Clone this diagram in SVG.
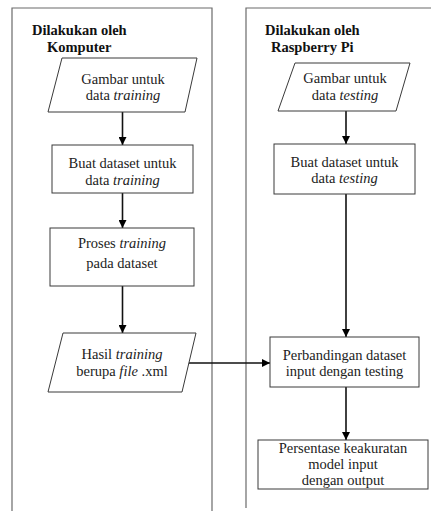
<svg xmlns="http://www.w3.org/2000/svg" width="431" height="511" viewBox="0 0 431 511">
<defs>
<marker id="ah" viewBox="0 0 10 10" refX="10" refY="5" markerWidth="8" markerHeight="8" markerUnits="userSpaceOnUse" orient="auto">
<path d="M0,0 L10,5 L0,10 z" fill="#000"/>
</marker>
<style>
.panel{fill:none;stroke:#6b6b6b;stroke-width:1.2}
.node{fill:#fff;stroke:#3a3a3a;stroke-width:1}
.t{font-family:'Liberation Serif','DejaVu Serif',serif;font-size:14.5px;fill:#222;text-anchor:middle}
.h{font-family:'Liberation Serif','DejaVu Serif',serif;font-size:14.5px;font-weight:bold;fill:#111}
.c{fill:none;stroke:#111;stroke-width:1.6;marker-end:url(#ah)}
</style>
</defs>
<rect width="431" height="511" fill="#fff"/>
<g id="panel-komputer">
<path class="panel" d="M12,511 V8 H212 V511"/>
<text class="h" x="32" y="35" font-family="Liberation Serif, serif">Dilakukan oleh</text>
<text class="h" x="47" y="52" font-family="Liberation Serif, serif">Komputer</text>
</g>
<g id="panel-raspberry">
<path class="panel" d="M246,508 V8 H431"/>
<text class="h" x="265" y="35">Dilakukan oleh</text>
<text class="h" x="271" y="52">Raspberry Pi</text>
</g>
<g id="connectors">
<line class="c" x1="122.5" y1="112" x2="122.5" y2="145"/>
<line class="c" x1="122.5" y1="193" x2="122.5" y2="228"/>
<line class="c" x1="122.5" y1="286" x2="122.5" y2="333"/>
<line class="c" x1="188" y1="363" x2="270" y2="363"/>
<line class="c" x1="346" y1="111" x2="346" y2="144"/>
<line class="c" x1="346" y1="194" x2="346" y2="337"/>
<line class="c" x1="346" y1="387" x2="346" y2="440"/>
</g>
<g id="n1">
<polygon class="node" points="62,58 197,58 185,112 48,112"/>
<text class="t" x="123" y="84">Gambar untuk</text>
<text class="t" x="123" y="100">data <tspan font-style="italic">training</tspan></text>
</g>
<g id="n2">
<rect class="node" x="52" y="145" width="141" height="48"/>
<text class="t" x="122.5" y="168">Buat dataset untuk</text>
<text class="t" x="122.5" y="185">data <tspan font-style="italic">training</tspan></text>
</g>
<g id="n3">
<rect class="node" x="50" y="228" width="144" height="58"/>
<text class="t" x="122" y="248">Proses <tspan font-style="italic">training</tspan></text>
<text class="t" x="122" y="268">pada dataset</text>
</g>
<g id="n4">
<polygon class="node" points="63,333 196,333 182,392 48,392"/>
<text class="t" x="122" y="359">Hasil <tspan font-style="italic">training</tspan></text>
<text class="t" x="122" y="376">berupa <tspan font-style="italic">file</tspan> .xml</text>
</g>
<g id="n5">
<polygon class="node" points="295,63 410,63 396,111 278,111"/>
<text class="t" x="345" y="83">Gambar untuk</text>
<text class="t" x="345" y="100">data <tspan font-style="italic">testing</tspan></text>
</g>
<g id="n6">
<rect class="node" x="274" y="144" width="141" height="50"/>
<text class="t" x="344.5" y="167">Buat dataset untuk</text>
<text class="t" x="344.5" y="183">data <tspan font-style="italic">testing</tspan></text>
</g>
<g id="n7">
<rect class="node" x="270" y="337" width="149" height="50"/>
<text class="t" x="344.5" y="360">Perbandingan dataset</text>
<text class="t" x="344.5" y="376">input dengan testing</text>
</g>
<g id="n8">
<rect class="node" x="258" y="440" width="170" height="49"/>
<text class="t" x="343" y="453">Persentase keakuratan</text>
<text class="t" x="343" y="469">model input</text>
<text class="t" x="343" y="485">dengan output</text>
</g>
</svg>
